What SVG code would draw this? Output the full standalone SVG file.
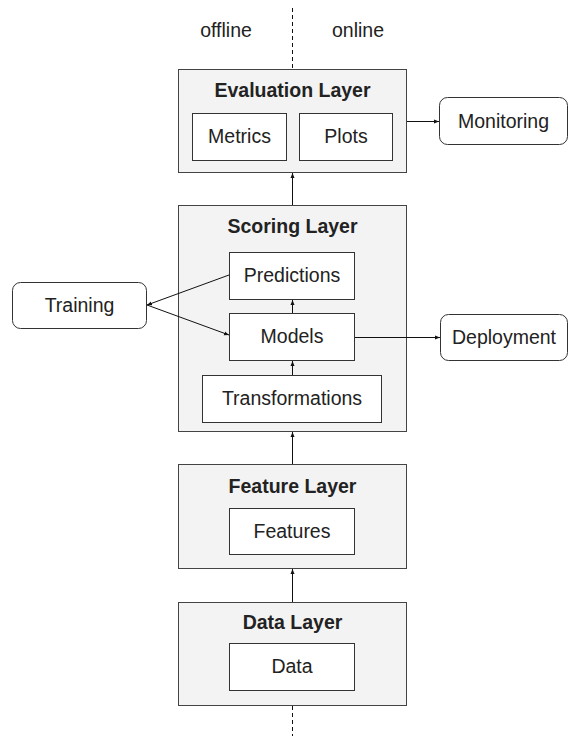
<svg xmlns="http://www.w3.org/2000/svg" width="569" height="736" viewBox="0 0 569 736">
<style>
text{font-family:"Liberation Sans",Arial,sans-serif;font-size:19.5px;fill:#222;text-anchor:middle}
.title{font-weight:bold}
.layer{fill:#f3f3f3;stroke:#444;stroke-width:1}
.box{fill:#fff;stroke:#333;stroke-width:1}
.ext{fill:#fff;stroke:#333;stroke-width:1}
.conn{stroke:#111;stroke-width:1;fill:none}
.dash{stroke:#111;stroke-width:1;stroke-dasharray:4,3;fill:none}
</style>
<defs>
<marker id="ah" viewBox="0 0 10 10" refX="10" refY="5" markerWidth="5" markerHeight="5" orient="auto" markerUnits="userSpaceOnUse">
<path d="M0,1 L10,5 L0,9 z" fill="#111"/>
</marker>
</defs>
<g id="labels">
<text x="226" y="37">offline</text>
<text x="358" y="37">online</text>
</g>
<g id="evaluation-layer">
<rect class="layer" x="178.5" y="69.5" width="228" height="103"/>
<text class="title" x="292.5" y="97">Evaluation Layer</text>
</g>
<g id="metrics"><rect class="box" x="192.5" y="113.5" width="94" height="47"/><text x="239.5" y="143">Metrics</text></g>
<g id="plots"><rect class="box" x="299.5" y="113.5" width="93" height="47"/><text x="346" y="143">Plots</text></g>
<g id="monitoring"><rect class="ext" x="439.5" y="97.5" width="128" height="47" rx="8"/><text x="503.5" y="128">Monitoring</text></g>
<g id="scoring-layer">
<rect class="layer" x="178.5" y="205.5" width="228" height="226"/>
<text class="title" x="292.5" y="233">Scoring Layer</text>
</g>
<g id="predictions"><rect class="box" x="229.5" y="252.5" width="125" height="47"/><text x="292" y="282">Predictions</text></g>
<g id="models"><rect class="box" x="229.5" y="313.5" width="125" height="47"/><text x="292" y="343">Models</text></g>
<g id="transformations"><rect class="box" x="202.5" y="375.5" width="179" height="47"/><text x="292" y="405">Transformations</text></g>
<g id="training"><rect class="ext" x="12.5" y="282.5" width="134" height="46" rx="8"/><text x="79.5" y="312">Training</text></g>
<g id="deployment"><rect class="ext" x="440.5" y="314.5" width="127" height="46" rx="8"/><text x="504" y="344">Deployment</text></g>
<g id="feature-layer">
<rect class="layer" x="178.5" y="464.5" width="228" height="104"/>
<text class="title" x="292.5" y="493">Feature Layer</text>
</g>
<g id="features"><rect class="box" x="229.5" y="508.5" width="125" height="46"/><text x="292" y="538">Features</text></g>
<g id="data-layer">
<rect class="layer" x="178.5" y="602.5" width="228" height="103"/>
<text class="title" x="292.5" y="629">Data Layer</text>
</g>
<g id="data"><rect class="box" x="229.5" y="643.5" width="125" height="47"/><text x="292" y="673">Data</text></g>
<g id="connectors">
<line class="dash" x1="292.5" y1="8" x2="292.5" y2="69"/>
<line class="dash" x1="292.5" y1="706" x2="292.5" y2="736"/>
<line class="conn" x1="292.5" y1="205" x2="292.5" y2="173" marker-end="url(#ah)"/>
<line class="conn" x1="407" y1="121.5" x2="439" y2="121.5" marker-end="url(#ah)"/>
<line class="conn" x1="292.5" y1="313" x2="292.5" y2="300" marker-end="url(#ah)"/>
<line class="conn" x1="292.5" y1="375" x2="292.5" y2="361" marker-end="url(#ah)"/>
<line class="conn" x1="355" y1="337.5" x2="440" y2="337.5" marker-end="url(#ah)"/>
<line class="conn" x1="229" y1="275" x2="147" y2="305" marker-end="url(#ah)"/>
<line class="conn" x1="147" y1="305" x2="229" y2="335" marker-end="url(#ah)"/>
<line class="conn" x1="292.5" y1="464" x2="292.5" y2="432" marker-end="url(#ah)"/>
<line class="conn" x1="292.5" y1="602" x2="292.5" y2="569" marker-end="url(#ah)"/>
</g>
</svg>
